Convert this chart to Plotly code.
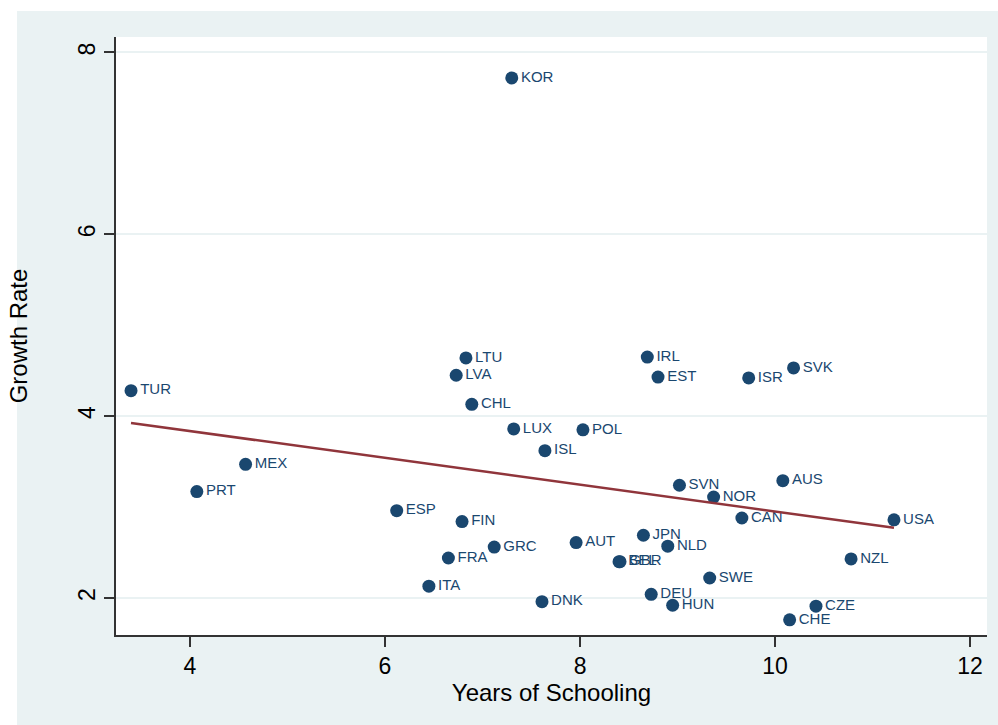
import numpy as np
import plotly.graph_objects as go

# Country codes, average years of schooling and growth rates
countries = ["KOR", "TUR", "LTU", "LVA", "CHL", "IRL", "EST", "ISR", "SVK", "LUX",
             "POL", "ISL", "MEX", "PRT", "SVN", "NOR", "AUS", "CAN", "USA", "ESP",
             "FIN", "GRC", "AUT", "JPN", "NLD", "BEL", "GBR", "FRA", "NZL", "SWE",
             "ITA", "DNK", "DEU", "HUN", "CZE", "CHE"]
schooling = [7.30, 3.395, 6.83, 6.73, 6.89, 8.69, 8.80, 9.73, 10.19, 7.32,
             8.03, 7.64, 4.57, 4.07, 9.02, 9.37, 10.08, 9.66, 11.22, 6.12,
             6.79, 7.12, 7.96, 8.65, 8.90, 8.40, 8.41, 6.65, 10.78, 9.33,
             6.45, 7.61, 8.73, 8.95, 10.42, 10.15]
growth = [7.72, 4.28, 4.64, 4.45, 4.13, 4.65, 4.43, 4.42, 4.53, 3.86,
          3.85, 3.62, 3.47, 3.17, 3.24, 3.11, 3.29, 2.88, 2.86, 2.96,
          2.84, 2.56, 2.61, 2.69, 2.57, 2.40, 2.40, 2.44, 2.43, 2.22,
          2.13, 1.96, 2.04, 1.92, 1.91, 1.76]

x_ticks = [4, 6, 8, 10, 12]
y_ticks = [2, 4, 6, 8]

NAVY = "#1A476F"
MAROON = "#90353B"
BG = "#EAF2F3"
FONT = "Liberation Sans, Arial, sans-serif"

# Linear fit over the observed range of schooling
slope, intercept = np.polyfit(schooling, growth, 1)
fit_x = np.array([min(schooling), max(schooling)])
fit_y = intercept + slope * fit_x

fig = go.Figure()
fig.add_trace(go.Scatter(
    x=schooling, y=growth, mode="markers+text", text=countries,
    textposition="middle right",
    textfont=dict(family=FONT, size=15, color=NAVY),
    marker=dict(size=13, color=NAVY),
    showlegend=False, cliponaxis=False,
))
fig.add_trace(go.Scatter(
    x=fit_x, y=fit_y, mode="lines",
    line=dict(color=MAROON, width=2.5),
    showlegend=False,
))

W, H = 998, 725
L, R, T, B = 116, 11, 37, 90
pw, ph = W - L - R, H - T - B

# thin white border strips on the left and top of the bluish page
fig.add_shape(type="rect", xref="paper", yref="paper", layer="below",
              x0=-L / pw, x1=(17 - L) / pw, y0=-B / ph, y1=(ph + T) / ph,
              fillcolor="white", line=dict(width=0))
fig.add_shape(type="rect", xref="paper", yref="paper", layer="below",
              x0=-L / pw, x1=(pw + R) / pw, y0=(ph + T - 11) / ph, y1=(ph + T) / ph,
              fillcolor="white", line=dict(width=0))

fig.update_layout(
    width=W, height=H,
    margin=dict(l=L, r=R, t=T, b=B),
    paper_bgcolor=BG, plot_bgcolor="white",
    font=dict(family=FONT, color="black"),
    xaxis=dict(
        range=[3.241, 12.174], tickvals=x_ticks, showgrid=False, zeroline=False,
        showline=True, linecolor="#333333", linewidth=1.5,
        ticks="outside", ticklen=10, tickwidth=1.5, tickcolor="#333333",
        tickfont=dict(size=23),
        title=dict(text="Years of Schooling", font=dict(size=24), standoff=4),
    ),
    yaxis=dict(
        range=[1.593, 8.17], tickvals=y_ticks, showgrid=True, gridcolor=BG,
        gridwidth=2, zeroline=False,
        showline=True, linecolor="#333333", linewidth=1.5,
        ticks="outside", ticklen=10, tickwidth=1.5, tickcolor="#333333",
        tickfont=dict(size=23), tickangle=-90,
        title=dict(text="Growth Rate", font=dict(size=24), standoff=40),
    ),
)

fig.write_html("out.html")
